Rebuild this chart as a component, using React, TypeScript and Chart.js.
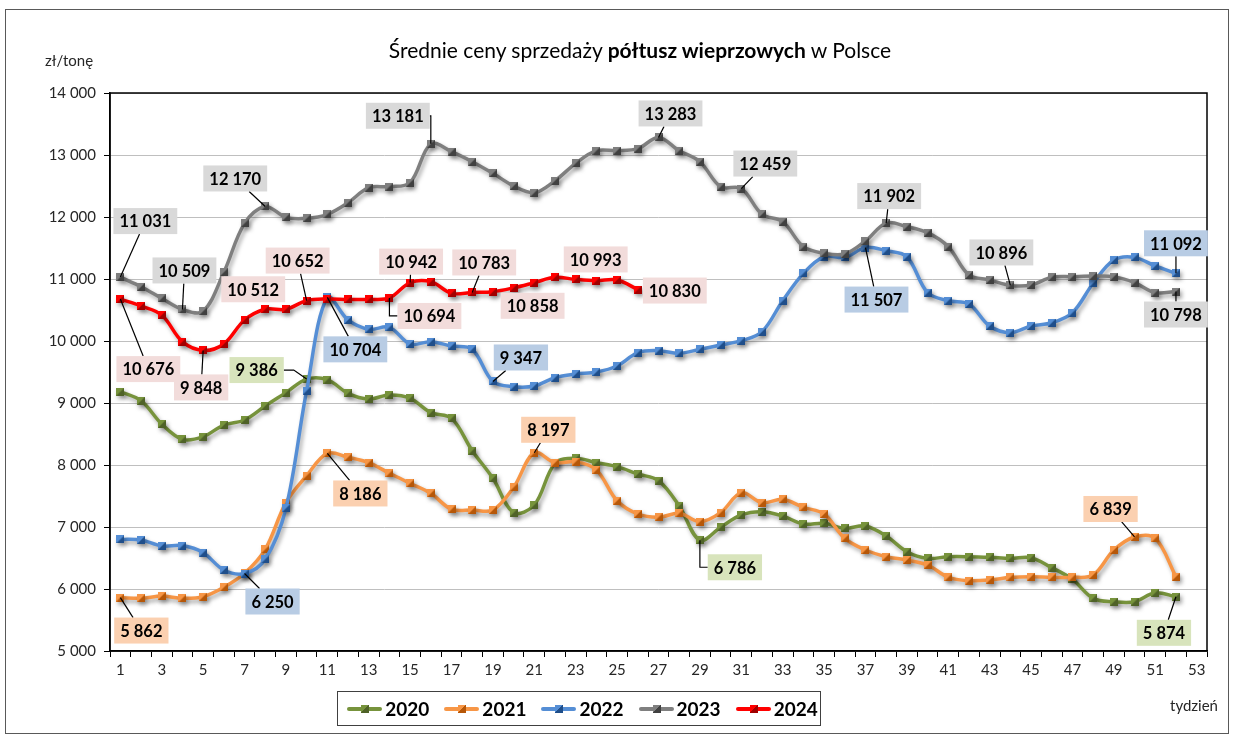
import React, { useEffect, useRef } from 'react';
import { Chart, registerables } from 'chart.js';

Chart.register(...registerables);

const weeks = ['1','2','3','4','5','6','7','8','9','10','11','12','13','14','15','16','17','18','19','20','21','22','23','24','25','26','27','28','29','30','31','32','33','34','35','36','37','38','39','40','41','42','43','44','45','46','47','48','49','50','51','52','53'];

const years = ['2020', '2021', '2022', '2023', '2024'];

const y2020 = [9183, 9037, 8661, 8414, 8457, 8645, 8726, 8952, 9167, 9386, 9377, 9156, 9065, 9129, 9075, 8844, 8753, 8231, 7785, 7231, 7355, 8027, 8108, 8038, 7973, 7855, 7747, 7339, 6786, 6995, 7194, 7247, 7177, 7048, 7059, 6979, 7016, 6855, 6602, 6494, 6521, 6521, 6511, 6494, 6505, 6344, 6155, 5849, 5795, 5795, 5940, 5874];
const y2021 = [5862, 5850, 5887, 5850, 5876, 6027, 6253, 6640, 7392, 7828, 8186, 8124, 8038, 7866, 7704, 7543, 7285, 7274, 7274, 7640, 8197, 8038, 8054, 7919, 7424, 7210, 7156, 7220, 7086, 7231, 7554, 7392, 7446, 7317, 7210, 6817, 6629, 6521, 6468, 6387, 6188, 6134, 6145, 6188, 6199, 6188, 6188, 6226, 6629, 6839, 6817, 6199];
const y2022 = [6801, 6790, 6694, 6700, 6586, 6306, 6250, 6479, 7301, 9199, 10704, 10339, 10189, 10221, 9952, 9989, 9919, 9866, 9347, 9263, 9274, 9409, 9468, 9500, 9597, 9812, 9844, 9801, 9866, 9935, 10005, 10150, 10650, 11091, 11360, 11349, 11507, 11457, 11360, 10780, 10650, 10597, 10242, 10134, 10242, 10295, 10457, 10931, 11306, 11349, 11210, 11092];
const y2023 = [11031, 10876, 10688, 10509, 10480, 11108, 11898, 12170, 11995, 11978, 12043, 12231, 12473, 12489, 12554, 13181, 13054, 12892, 12704, 12500, 12392, 12586, 12866, 13070, 13070, 13102, 13283, 13070, 12892, 12489, 12459, 12043, 11925, 11521, 11414, 11403, 11613, 11902, 11845, 11747, 11521, 11065, 10984, 10896, 10903, 11027, 11038, 11048, 11038, 10941, 10780, 10798];
const y2024 = [10676, 10565, 10419, 9989, 9848, 9952, 10339, 10512, 10511, 10652, 10677, 10670, 10670, 10694, 10942, 10957, 10769, 10783, 10796, 10858, 10941, 11027, 10993, 10973, 10984, 10830];

const seriesValues = [y2020, y2021, y2022, y2023, y2024];

const yTicks = [5000, 6000, 7000, 8000, 9000, 10000, 11000, 12000, 13000, 14000];

const lineColors = ['#77933C', '#F79646', '#558ED5', '#7F7F7F', '#FF0000'];
const markerDark = ['#4F6228', '#B65708', '#1F4E8A', '#404040', '#A00000'];
const boxColors = ['#D8E4BC', '#FBD0B0', '#B8CCE4', '#D9D9D9', '#F2DCDB'];

// labelled points: [series index, week, dx, dy, leader]
const labelPoints: [number, number, number, number, string][] = [
  [3, 1, 25, -56, 'line'],
  [3, 4, 2, -39, 'line'],
  [3, 8, -30, -28, 'line'],
  [3, 16, -33, -28, 'elbow'],
  [3, 27, 12, -24, 'line'],
  [3, 31, 24, -25, 'line'],
  [3, 38, 3, -27, 'line'],
  [3, 44, -9, -33, 'line'],
  [3, 52, 0, 23, 'line'],
  [2, 7, 28, 28, 'line'],
  [2, 11, 28, 52, 'line'],
  [2, 19, 28, -24, 'line'],
  [2, 37, 11, 52, 'line'],
  [2, 52, 0, -30, 'line'],
  [4, 1, 28, 70, 'line'],
  [4, 5, -2, 37, 'line'],
  [4, 8, -12, -20, 'none'],
  [4, 10, -9, -40, 'line'],
  [4, 14, 40, 18, 'elbow'],
  [4, 15, 1, -21, 'line'],
  [4, 18, 12, -30, 'line'],
  [4, 20, 19, 18, 'none'],
  [4, 23, 20, -20, 'none'],
  [4, 26, 37, 1, 'none'],
  [0, 10, -50, -9, 'bend'],
  [0, 29, 35, 27, 'elbow'],
  [0, 52, -12, 36, 'line'],
  [1, 1, 21, 33, 'line'],
  [1, 11, 33, 40, 'line'],
  [1, 21, 14, -23, 'line'],
  [1, 50, -24, -28, 'line'],
];

const FONT = 'Lato, "Open Sans", sans-serif';

const fmt = (n: number) => String(n).replace(/\B(?=(\d{3})+(?!\d))/g, ' ');

function makeMarker(light: string, dark: string) {
  const c = document.createElement('canvas');
  c.width = 8;
  c.height = 8;
  const g = c.getContext('2d')!;
  g.fillStyle = light;
  g.fillRect(0, 0, 8, 8);
  g.fillStyle = dark;
  g.beginPath();
  g.moveTo(8, 0);
  g.lineTo(8, 8);
  g.lineTo(0, 8);
  g.closePath();
  g.fill();
  return c;
}

const decorPlugin = {
  id: 'decor',
  beforeDatasetsDraw(chart: any) {
    const { ctx, chartArea } = chart;
    ctx.save();
    ctx.strokeStyle = '#000';
    ctx.lineWidth = 1.5;
    ctx.strokeRect(chartArea.left, chartArea.top, chartArea.right - chartArea.left, chartArea.bottom - chartArea.top);
    ctx.restore();
    ctx.save();
    ctx.shadowColor = 'rgba(0,0,0,0.35)';
    ctx.shadowBlur = 4;
    ctx.shadowOffsetX = 2;
    ctx.shadowOffsetY = 3;
  },
  afterDatasetsDraw(chart: any) {
    const { ctx } = chart;
    ctx.restore();
    ctx.save();
    ctx.font = 'bold 16.5px ' + FONT;
    ctx.textAlign = 'center';
    ctx.textBaseline = 'middle';
    for (const [si, wk, dx, dy, leader] of labelPoints) {
      const meta = chart.getDatasetMeta(si);
      const el = meta.data[wk - 1];
      if (!el) continue;
      const px = el.x;
      const py = el.y;
      const text = fmt(seriesValues[si][wk - 1]);
      const w = ctx.measureText(text).width + 12;
      const h = 26;
      const cx = px + dx;
      const cy = py + dy;
      const hw = w / 2;
      const hh = h / 2;
      ctx.strokeStyle = '#000';
      ctx.lineWidth = 1.2;
      ctx.beginPath();
      if (leader === 'line') {
        const ddx = px - cx;
        const ddy = py - cy;
        const s = Math.min(ddx !== 0 ? hw / Math.abs(ddx) : Infinity, ddy !== 0 ? hh / Math.abs(ddy) : Infinity);
        if (s < 1) {
          ctx.moveTo(px, py);
          ctx.lineTo(cx + ddx * s, cy + ddy * s);
        }
      } else if (leader === 'elbow') {
        const ex = px > cx ? cx + hw : cx - hw;
        ctx.moveTo(px, py);
        ctx.lineTo(px, cy);
        ctx.lineTo(ex, cy);
      } else if (leader === 'bend') {
        const ex = px > cx ? cx + hw : cx - hw;
        const bx = px > cx ? ex + 10 : ex - 10;
        ctx.moveTo(ex, cy);
        ctx.lineTo(bx, cy);
        ctx.lineTo(px, py);
      }
      ctx.stroke();
      ctx.fillStyle = boxColors[si];
      ctx.fillRect(cx - hw, cy - hh, w, h);
      ctx.fillStyle = '#000';
      ctx.fillText(text, cx, cy + 1);
    }
    ctx.restore();
  },
};

export default function App() {
  const ref = useRef<HTMLCanvasElement>(null);

  useEffect(() => {
    if (!ref.current) return;
    const datasets = seriesValues.map((vals, i) => ({
      label: years[i],
      data: vals,
      borderColor: lineColors[i],
      backgroundColor: lineColors[i],
      borderWidth: 3.5,
      tension: 0.35,
      pointStyle: makeMarker(lineColors[i], markerDark[i]) as any,
      pointRadius: 4,
      order: 5 - i,
      clip: false as any,
    }));
    const chart = new Chart(ref.current, {
      type: 'line',
      data: { labels: weeks, datasets },
      options: {
        animation: false,
        responsive: false,
        maintainAspectRatio: false,
        layout: { padding: { left: 0, right: 27, top: 93, bottom: 0 } },
        plugins: {
          legend: { display: false },
          tooltip: { enabled: false },
          title: { display: false },
        },
        scales: {
          x: {
            type: 'category',
            offset: true,
            afterFit: (s: any) => { s.height = 88; },
            grid: {
              drawOnChartArea: false,
              offset: true,
              tickLength: 6,
              tickColor: '#000',
              color: '#000',
            },
            border: { color: '#000', width: 1.5 },
            ticks: {
              autoSkip: false,
              maxRotation: 0,
              padding: 4,
              color: '#262626',
              font: { family: FONT, size: 15 },
              callback: (_v: any, idx: number) => (idx % 2 === 0 ? weeks[idx] : ''),
            },
          },
          y: {
            min: 5000,
            max: 14000,
            afterFit: (s: any) => { s.width = 110; },
            afterBuildTicks: (s: any) => { s.ticks = yTicks.map((v) => ({ value: v })); },
            grid: {
              color: '#BFBFBF',
              lineWidth: 1,
              tickLength: 6,
              tickColor: '#000',
            },
            border: { color: '#000', width: 1.5 },
            ticks: {
              padding: 8,
              color: '#262626',
              font: { family: FONT, size: 15 },
              callback: (v: any) => fmt(Number(v)),
            },
          },
        },
      },
      plugins: [decorPlugin],
    });
    return () => chart.destroy();
  }, []);

  const legendItem = (i: number) => (
    <div key={i} style={{ display: 'flex', alignItems: 'center', marginRight: 15 }}>
      <div style={{ position: 'relative', width: 35, height: 4, background: lineColors[i], borderRadius: 2, marginRight: 3 }}>
        <div
          style={{
            position: 'absolute',
            left: 14,
            top: -2,
            width: 8,
            height: 8,
            background: `linear-gradient(135deg, ${lineColors[i]} 50%, ${markerDark[i]} 50%)`,
          }}
        />
      </div>
      <span style={{ fontFamily: FONT, fontWeight: 700, fontSize: 19, color: '#000' }}>{years[i]}</span>
    </div>
  );

  return (
    <div style={{ position: 'absolute', left: 0, top: 0, width: 1234, height: 739, background: '#fff', overflow: 'hidden' }}>
      <div style={{ position: 'absolute', left: 5, top: 9, width: 1224, height: 725, border: '1px solid #595959', boxSizing: 'border-box' }} />
      <canvas ref={ref} width={1234} height={739} style={{ position: 'absolute', left: 0, top: 0, width: 1234, height: 739 }} />
      <div style={{ position: 'absolute', left: 0, width: 1280, top: 37, textAlign: 'center', fontFamily: FONT, fontSize: 21, color: '#000' }}>
        Średnie ceny sprzedaży <b>półtusz wieprzowych</b> w Polsce
      </div>
      <div style={{ position: 'absolute', left: 45, top: 51, fontFamily: FONT, fontSize: 15, color: '#262626' }}>zł/tonę</div>
      <div style={{ position: 'absolute', left: 1170, top: 696, fontFamily: FONT, fontSize: 15, color: '#262626' }}>tydzień</div>
      <div
        style={{
          position: 'absolute',
          left: 337,
          top: 691,
          width: 484,
          height: 35,
          border: '1px solid #404040',
          boxSizing: 'border-box',
          display: 'flex',
          alignItems: 'center',
          justifyContent: 'center',
          paddingLeft: 22,
        }}
      >
        {years.map((_, i) => legendItem(i))}
      </div>
    </div>
  );
}
